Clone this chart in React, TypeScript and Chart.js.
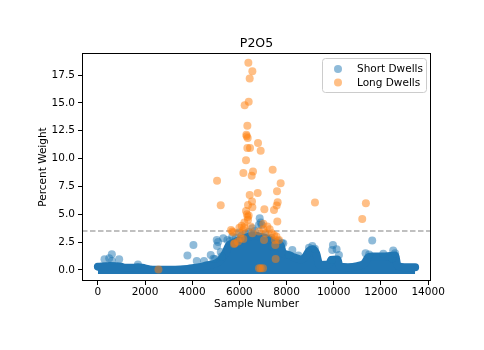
import { useEffect, useRef } from "react";
import { Chart, registerables } from "chart.js";
Chart.register(...registerables);

const chartTitle = "P2O5";
const xTitle = "Sample Number";
const yTitle = "Percent Weight";
const xTicks = [0, 2000, 4000, 6000, 8000, 10000, 12000, 14000];
const yTicks = [0, 2.5, 5, 7.5, 10, 12.5, 15, 17.5];
const threshold = 3.5;

// Upper edge of the dense "Short Dwells" mass
const bandX = [0, 500, 1000, 1100, 1500, 1700, 2000, 2200, 2500, 3000, 3500, 3800, 4000, 4300, 4600, 5000, 5200, 5400, 5550, 5700, 6000, 6300, 6600, 6900, 7200, 7500, 7750, 7850, 8000, 8300, 8600, 8800, 8950, 9100, 9250, 9400, 9800, 9900, 10150, 10250, 10600, 11000, 11300, 11450, 11600, 12000, 12400, 12600, 12700, 13000, 13450];
const bandTop = [0.3, 0.35, 0.3, 0.2, 0.2, 0.25, 0.15, 0.05, 0.03, 0.03, 0.05, 0.1, 0.15, 0.25, 0.4, 0.6, 0.9, 1.5, 2.2, 2.4, 2.7, 2.9, 3.1, 3.0, 2.8, 2.5, 2.2, 1.5, 1.4, 1.15, 0.95, 1.2, 1.7, 1.85, 1.5, 0.45, 0.5, 0.9, 0.95, 0.3, 0.25, 0.35, 0.6, 1.1, 1.2, 1.2, 1.25, 1.3, 0.4, 0.25, 0.25];
const bandBase = -0.36;

// Scattered "Short Dwells" points outside the dense mass
const shortX = [282, 593, 480, 903, 3797, 4051, 4192, 4785, 5039, 5095, 5053, 5208, 5250, 4968, 5490, 5700, 6860, 6945, 6902, 6831, 6549, 6267, 5984, 7862, 9090, 9965, 9936, 10120, 10219, 9908, 11630, 11348, 12520, 12477, 8100, 7396, 8243, 5317, 5600, 5850, 6100, 6400, 6650, 7100, 7350, 7650, 7800, 8950, 9200, 11500, 12100, 12600, 600, 4500, 4900, 8500, 1700];
const shortY = [0.96, 1.41, 1.05, 0.96, 1.29, 2.25, 0.81, 1.35, 2.7, 2.52, 2.16, 1.62, 1.2, 0.99, 2.7, 3.0, 4.64, 4.04, 4.26, 4.05, 3.75, 3.3, 3.36, 2.4, 2.16, 2.25, 1.8, 1.86, 1.35, 0.9, 2.64, 1.5, 1.74, 1.05, 1.35, 2.1, 1.8, 2.84, 2.6, 2.9, 3.1, 3.4, 3.5, 3.2, 2.9, 2.6, 2.4, 2.0, 1.9, 1.4, 1.45, 1.5, 0.8, 0.8, 1.0, 1.3, 0.5];

const longX = [6380, 6549, 6436, 6394, 6224, 6337, 6295, 6309, 6352, 6789, 6337, 6450, 6902, 6281, 7410, 6168, 6577, 6521, 5053, 7749, 7594, 6436, 6775, 9203, 11362, 7622, 7580, 5208, 6535, 6366, 6549, 7058, 7467, 6281, 6394, 6366, 11207, 7608, 6210, 6098, 6210, 6168, 6478, 7016, 7185, 7016, 7284, 5646, 5745, 6055, 6549, 6831, 7115, 7467, 7510, 7679, 7044, 6055, 5801, 5942, 6168, 5773, 7523, 7537, 2569, 6831, 7001, 6902, 6000, 5700, 7370, 7570, 6350, 6320];
const longY = [18.6, 17.85, 17.2, 15.1, 14.8, 12.95, 12.15, 12.0, 11.85, 11.4, 10.95, 10.95, 10.7, 9.85, 9.0, 8.7, 8.85, 8.45, 8.0, 7.78, 7.07, 6.74, 6.92, 6.05, 6.0, 6.08, 5.78, 5.8, 6.14, 5.84, 5.63, 5.45, 5.39, 5.3, 4.88, 4.5, 4.58, 4.35, 4.26, 3.96, 3.84, 3.6, 3.9, 4.14, 3.9, 3.66, 3.66, 3.6, 3.36, 3.3, 3.3, 3.45, 3.3, 3.15, 2.7, 2.7, 2.7, 2.85, 2.4, 2.55, 2.79, 2.34, 2.25, 0.99, 0.04, 0.15, 0.15, 0.15, 3.8, 3.45, 3.3, 3.0, 4.75, 5.0];

const xMin = -672;
const xMax = 14122;
const yMin = -0.99;
const yMax = 19.48;

const BLUE = "rgba(31,119,180,0.5)";
const ORANGE = "rgba(255,127,14,0.5)";
const FONT = "'DejaVu Sans', sans-serif";

const decor = {
  id: "decor",
  afterDraw(chart: any) {
    const { ctx, chartArea: a } = chart;
    ctx.save();
    ctx.strokeStyle = "#000";
    ctx.lineWidth = 1;
    ctx.strokeRect(Math.round(a.left) + 0.5, Math.round(a.top) + 0.5, Math.round(a.right - a.left) - 1, Math.round(a.bottom - a.top) - 1);
    ctx.fillStyle = "#000";
    ctx.textAlign = "center";
    ctx.textBaseline = "middle";
    ctx.font = `12.5px ${FONT}`;
    ctx.fillText(chartTitle, (a.left + a.right) / 2, 44);
    ctx.font = `10.5px ${FONT}`;
    ctx.fillText(xTitle, (a.left + a.right) / 2, 304);
    ctx.save();
    ctx.translate(43, (a.top + a.bottom) / 2);
    ctx.rotate(-Math.PI / 2);
    ctx.fillText(yTitle, 0, 0);
    ctx.restore();
    const lx = 322.5, ly = 58.5, lw = 104, lh = 34;
    ctx.beginPath();
    ctx.roundRect(lx, ly, lw, lh, 3);
    ctx.fillStyle = "rgba(255,255,255,0.8)";
    ctx.fill();
    ctx.strokeStyle = "#cccccc";
    ctx.stroke();
    const items = [
      { label: chart.data.datasets[1].label, color: BLUE, y: 69 },
      { label: chart.data.datasets[0].label, color: ORANGE, y: 82.5 },
    ];
    ctx.textAlign = "left";
    for (const it of items) {
      ctx.beginPath();
      ctx.arc(338, it.y, 4, 0, Math.PI * 2);
      ctx.fillStyle = it.color;
      ctx.fill();
      ctx.fillStyle = "#000";
      ctx.fillText(it.label, 357, it.y + 0.5);
    }
    ctx.restore();
  },
};

export default function App() {
  const ref = useRef<HTMLCanvasElement>(null);
  useEffect(() => {
    if (!ref.current) return;
    const chart = new Chart(ref.current, {
      type: "scatter",
      data: {
        datasets: [
          {
            label: "Long Dwells",
            data: longX.map((x, i) => ({ x, y: longY[i] })),
            backgroundColor: ORANGE,
            borderWidth: 0,
            pointRadius: 4,
            order: 0,
          },
          {
            label: "Short Dwells",
            data: shortX.map((x, i) => ({ x, y: shortY[i] })),
            backgroundColor: BLUE,
            borderWidth: 0,
            pointRadius: 4,
            order: 1,
          },
          {
            type: "line",
            label: "threshold",
            data: [{ x: xMin, y: threshold }, { x: xMax, y: threshold }],
            borderColor: "rgba(128,128,128,0.65)",
            borderWidth: 1.5,
            borderDash: [5.5, 2.5],
            pointRadius: 0,
            fill: false,
            order: 2,
          },
          {
            type: "line",
            label: "band",
            data: bandX.map((x, i) => ({ x, y: bandTop[i] })),
            borderColor: "#2176b3",
            backgroundColor: "#2176b3",
            borderWidth: 8,
            borderJoinStyle: "round",
            borderCapStyle: "round",
            cubicInterpolationMode: "monotone",
            pointRadius: 0,
            fill: { value: bandBase },
            order: 3,
          },
        ] as any,
      },
      options: {
        animation: false,
        responsive: false,
        events: [],
        layout: { padding: { top: 53, right: 53, left: 0, bottom: 0 } },
        plugins: { legend: { display: false }, tooltip: { enabled: false }, title: { display: false } },
        scales: {
          x: {
            type: "linear",
            min: xMin,
            max: xMax,
            afterBuildTicks: (s: any) => { s.ticks = xTicks.map((v) => ({ value: v })); },
            afterFit: (s: any) => { s.height = 69; },
            border: { display: false },
            grid: { display: true, drawOnChartArea: false, drawTicks: true, tickLength: 4, color: "#000" },
            ticks: { color: "#000", font: { family: FONT, size: 10.5 }, padding: 1, maxRotation: 0, callback: (v: any) => String(v) },
          },
          y: {
            type: "linear",
            min: yMin,
            max: yMax,
            afterBuildTicks: (s: any) => { s.ticks = yTicks.map((v) => ({ value: v })); },
            afterFit: (s: any) => { s.width = 82; },
            border: { display: false },
            grid: { display: true, drawOnChartArea: false, drawTicks: true, tickLength: 4, color: "#000" },
            ticks: { color: "#000", font: { family: FONT, size: 10.5 }, padding: 3, callback: (v: any) => Number(v).toFixed(1) },
          },
        },
      } as any,
      plugins: [decor],
    });
    return () => chart.destroy();
  }, []);
  return (
    <div style={{ position: "fixed", left: 0, top: 0, width: 484, height: 350, background: "#fff" }}>
      <canvas ref={ref} width={484} height={350} />
    </div>
  );
}
